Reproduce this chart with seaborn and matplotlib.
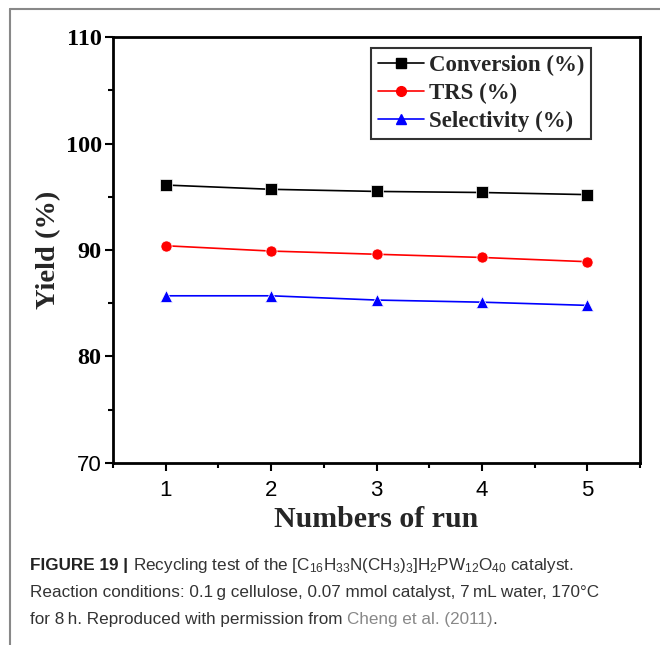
import matplotlib
matplotlib.use("Agg")
import matplotlib.pyplot as plt
import seaborn as sns
import pandas as pd
from matplotlib.ticker import MultipleLocator
from matplotlib.lines import Line2D

runs = [1, 2, 3, 4, 5]
conversion = [96.1, 95.7, 95.5, 95.4, 95.2]
trs = [90.4, 89.9, 89.6, 89.3, 88.9]
selectivity = [85.7, 85.7, 85.3, 85.1, 84.8]
series_names = ["Conversion (%)", "TRS (%)", "Selectivity (%)"]
colors = ["black", "#ff0000", "#0000ff"]
markers = ["s", "o", "^"]
y_ticks = [70, 80, 90, 100, 110]

sns.set_style("ticks")
plt.rcParams["mathtext.default"] = "regular"

df = pd.DataFrame({
    "run": runs * 3,
    "value": conversion + trs + selectivity,
    "series": [series_names[0]] * 5 + [series_names[1]] * 5 + [series_names[2]] * 5,
})

fig = plt.figure(figsize=(6.6, 6.45), dpi=100)
ax = fig.add_axes([0.171, 0.2822, 0.799, 0.6604])

sns.lineplot(data=df, x="run", y="value", hue="series", style="series",
             palette=colors, markers=markers, dashes=False, markersize=8,
             markeredgewidth=0.5, linewidth=1.2, ax=ax, legend=False)

ax.set_xlim(0.5, 5.5)
ax.set_ylim(70, 110)
ax.set_xticks(runs)
ax.set_yticks(y_ticks)
ax.xaxis.set_minor_locator(MultipleLocator(0.5))
ax.yaxis.set_minor_locator(MultipleLocator(5))
for s in ax.spines.values():
    s.set_linewidth(2.0)
    s.set_color("black")
ax.tick_params(which="major", direction="out", length=6, width=1.5, colors="black")
ax.tick_params(which="minor", direction="out", length=3.5, width=1.5, colors="black")

ax.set_xticklabels([str(r) for r in runs], fontfamily="Liberation Sans", fontsize=16)
ylabels = ax.set_yticklabels([str(v) for v in y_ticks], fontfamily="Liberation Serif",
                             fontweight="bold", fontsize=17.5)
ylabels[0].set_fontfamily("Liberation Sans")
ylabels[0].set_fontweight("normal")
ylabels[0].set_fontsize(16)
ax.tick_params(axis="x", pad=6)
ax.tick_params(axis="y", pad=2)

ax.set_xlabel("Numbers of run", fontfamily="Liberation Serif", fontweight="bold",
              fontsize=21.5, labelpad=4)
ax.set_ylabel("Yield (%)", fontfamily="Liberation Serif", fontweight="bold",
              fontsize=20.5, labelpad=3)

handles = [Line2D([], [], color=c, marker=m, markersize=7, linewidth=1.2)
           for c, m in zip(colors, markers)]
leg = ax.legend(handles, series_names, loc="upper right", bbox_to_anchor=(0.915, 0.985),
                prop={"family": "Liberation Serif", "weight": "bold", "size": 16.5},
                frameon=True, fancybox=False, edgecolor="black", handlelength=2.0,
                handletextpad=0.2, borderpad=0.3, labelspacing=0.3, borderaxespad=0.2)
leg.get_frame().set_linewidth(1.5)

# outer border (top and left)
fig.add_artist(Line2D([10/660, 1.0], [1 - 9/645, 1 - 9/645], color="#888888", lw=1.5,
                      transform=fig.transFigure))
fig.add_artist(Line2D([10/660, 10/660], [0.0, 1 - 9/645], color="#888888", lw=1.5,
                      transform=fig.transFigure))

cap_font = {"family": "Liberation Sans", "size": 12.3}
cap_col = "#333333"
x0 = 30 / 660
r = fig.canvas.get_renderer()


def put_after(prev, text, y, **kw):
    fig.canvas.draw()
    bb = prev.get_window_extent(r)
    return fig.text(bb.x1 / fig.bbox.width, y, text, fontdict=cap_font, va="baseline", **kw)


y1, y2, y3 = 1 - 570/645, 1 - 597/645, 1 - 624/645
t1 = fig.text(x0, y1, "FIGURE 19 | ", fontdict=cap_font, fontweight="bold",
              color="#222222", va="baseline")
put_after(t1, r"Recycling test of the [C$_{16}$H$_{33}$N(CH$_3$)$_3$]H$_2$PW$_{12}$O$_{40}$ catalyst.",
          y1, color=cap_col)
fig.text(x0, y2,
         "Reaction conditions: 0.1\u2009g cellulose, 0.07 mmol catalyst, 7\u2009mL water, 170\u00b0C",
         fontdict=cap_font, color=cap_col, va="baseline")
t3 = fig.text(x0, y3, "for 8\u2009h. Reproduced with permission from ",
              fontdict=cap_font, color=cap_col, va="baseline")
t4 = put_after(t3, "Cheng et al. (2011)", y3, color="#888888")
put_after(t4, ".", y3, color=cap_col)

fig.savefig("out.png", dpi=100)
